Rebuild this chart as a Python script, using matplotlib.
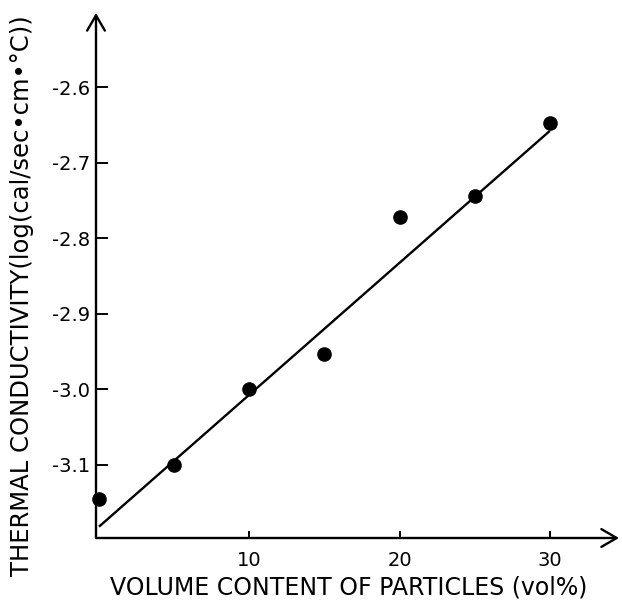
import matplotlib
matplotlib.use("Agg")
import matplotlib.pyplot as plt

# Datos
vol = [0, 5, 10, 15, 20, 25, 30]
cond = [-3.146, -3.100, -3.000, -2.953, -2.772, -2.744, -2.648]

# Recta de ajuste (extremos)
fit_x = [0, 30]
fit_y = [-3.182, -2.658]

xticks = [10, 20, 30]
yticks = [-2.6, -2.7, -2.8, -2.9, -3.0, -3.1]

W, H = 622, 600
fig = plt.figure(figsize=(W / 100, H / 100), dpi=100)
ax = fig.add_axes([96 / W, 1 - 538 / H, (619 - 96) / W, (538 - 13) / H])

ax.plot(fit_x, fit_y, color="black", linewidth=1.7, solid_capstyle="butt")
ax.plot(vol, cond, "o", color="black", markersize=9.5, clip_on=False)

ax.set_xlim(-0.2, 34.6)
ax.set_ylim(-3.197, -2.502)

for s in ax.spines.values():
    s.set_visible(False)

# Ejes con flechas
arrow = dict(arrowstyle="->,head_length=0.55,head_width=0.32", color="black",
             linewidth=1.7, shrinkA=0, shrinkB=0, mutation_scale=20)
ax.annotate("", xy=(0, 1), xytext=(0, 0), xycoords="axes fraction", arrowprops=arrow)
ax.annotate("", xy=(1, 0), xytext=(0, 0), xycoords="axes fraction", arrowprops=arrow)

ax.set_xticks(xticks)
ax.set_xticklabels([str(t) for t in xticks])
ax.set_yticks(yticks)
ax.set_yticklabels([f"{t:.1f}" for t in yticks])
ax.tick_params(axis="y", direction="in", length=8.5, width=1.4, pad=4, labelsize=14)
ax.tick_params(axis="x", direction="in", length=5, width=1.4, pad=9, labelsize=14)

ax.set_xlabel("VOLUME CONTENT OF PARTICLES (vol%)", fontsize=17)
ax.set_ylabel("THERMAL CONDUCTIVITY(log(cal/sec•cm•°C))", fontsize=17.5)
ax.xaxis.set_label_coords(0.484, -0.072)
ax.yaxis.set_label_coords(-0.118, 0.462)

fig.savefig("out.png", dpi=100)
